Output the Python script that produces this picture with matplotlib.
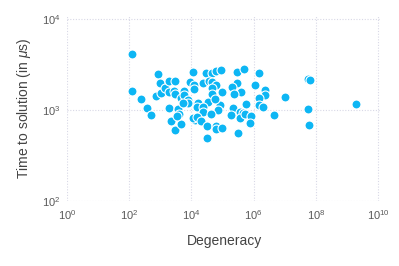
import numpy as np
import matplotlib
matplotlib.use('Agg')
import matplotlib.pyplot as plt
from matplotlib.ticker import NullLocator

plt.rcParams['font.family'] = ['Liberation Sans', 'DejaVu Sans']
plt.rcParams['mathtext.fontset'] = 'custom'
plt.rcParams['mathtext.rm'] = 'Liberation Sans'
plt.rcParams['mathtext.it'] = 'Liberation Sans:italic'

# log10(degeneracy), log10(time in us)
log_deg = [2.08, 2.08, 2.39, 2.57, 2.70, 2.92, 2.99, 2.86, 3.02, 3.15,
           3.29, 3.47, 3.28, 3.45, 3.47, 3.29, 3.35, 3.46, 3.58, 3.60,
           3.65, 3.53, 3.65, 3.77, 3.77, 3.88, 3.89, 3.95, 4.04, 4.09,
           4.04, 4.17, 4.13, 4.08, 3.89, 3.74, 4.47, 4.67, 4.78, 4.94,
           4.37, 4.56, 4.66, 4.78, 4.67, 4.98, 4.66, 4.54, 4.20, 4.18,
           4.37, 4.37, 4.05, 4.18, 4.30, 4.50, 4.80, 4.80, 4.98, 4.50,
           4.93, 4.84, 5.46, 5.70, 6.18, 5.46, 5.30, 5.58, 5.36, 6.05,
           6.36, 6.36, 6.18, 5.75, 6.18, 6.31, 5.33, 5.56, 5.67, 5.28,
           5.56, 5.71, 5.93, 5.87, 5.49, 7.00, 6.66, 7.74, 7.81, 7.74,
           7.79, 9.31, 4.75, 4.62]
log_time = [3.61, 3.21, 3.12, 3.02, 2.94, 3.39, 3.30, 3.15, 3.18, 3.24,
            3.32, 3.32, 3.20, 3.21, 3.17, 3.02, 2.88, 2.78, 3.01, 2.95,
            2.85, 2.93, 3.13, 3.21, 3.16, 3.09, 3.11, 3.31, 3.42, 3.27,
            2.91, 3.08, 2.89, 3.23, 3.08, 3.08, 3.41, 3.40, 3.43, 3.44,
            3.30, 3.32, 3.31, 3.27, 3.24, 3.20, 3.17, 3.09, 3.08, 3.03,
            3.03, 2.98, 2.91, 2.92, 2.88, 2.82, 2.82, 2.79, 2.80, 2.69,
            3.05, 3.00, 3.42, 3.45, 3.40, 3.29, 3.25, 3.20, 3.17, 3.27,
            3.22, 3.16, 3.13, 3.07, 3.05, 3.03, 3.02, 2.98, 2.97, 2.94,
            2.91, 2.95, 2.93, 2.86, 2.75, 3.14, 2.94, 3.34, 3.33, 3.01,
            2.83, 3.06, 3.12, 2.96]

degeneracy = 10 ** np.array(log_deg)
time_us = 10 ** np.array(log_time)

fig = plt.figure(figsize=(3.99, 2.66), dpi=100)
ax = fig.add_axes([0.168, 0.244, 0.787, 0.696])

ax.scatter(degeneracy, time_us, s=42, color='#0DB6F4', edgecolors='white',
           linewidths=0.8, zorder=3)

ax.set_xscale('log')
ax.set_yscale('log')
ax.set_xlim(1, 10 ** 10.1)
ax.set_ylim(100, 10 ** 4.03)
ax.xaxis.set_major_locator(plt.FixedLocator([10.0 ** k for k in range(0, 11, 2)]))
ax.yaxis.set_major_locator(plt.FixedLocator([1e2, 1e3, 1e4]))
ax.xaxis.set_minor_locator(NullLocator())
ax.yaxis.set_minor_locator(NullLocator())

ax.grid(True, which='major', linestyle=(0, (1, 1.5)), color='#D8D8E6', linewidth=0.8)
for s in ax.spines.values():
    s.set_visible(False)
ax.tick_params(length=0, labelsize=8, colors='#5a5a5a', pad=5)

ax.set_xlabel('Degeneracy', fontsize=10, color='#444444', labelpad=9)
ax.set_ylabel(r'Time to solution (in $\mu$s)', fontsize=10, color='#444444', labelpad=6)

fig.savefig('out.png', dpi=100)
